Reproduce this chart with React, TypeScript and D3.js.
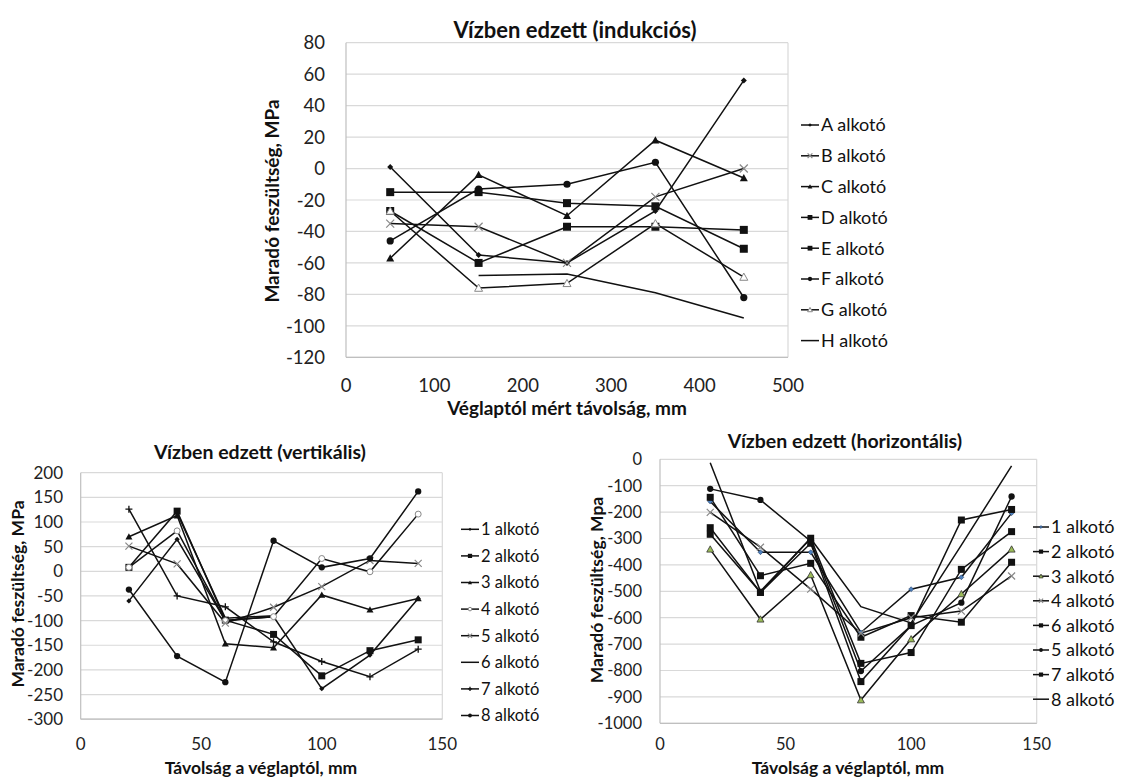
import * as d3 from "d3"

const FONT = "Lato, 'Open Sans', sans-serif"

// ---- Vízben edzett (indukciós)
const topX = [50, 150, 250, 350, 450]
const topXTicks = [0, 100, 200, 300, 400, 500]
const topYTicks = [80, 60, 40, 20, 0, -20, -40, -60, -80, -100, -120]
const topNames = ["A alkotó", "B alkotó", "C alkotó", "D alkotó", "E alkotó", "F alkotó", "G alkotó", "H alkotó"]
const topMarkers = ["diamond", "x", "triangle", "square", "square", "circle", "otriangle", "none"]
const topA = [1, -55, -60, -27, 56]
const topB = [-35, -37, -60, -18, 0]
const topC = [-57, -4, -30, 18, -6]
const topD = [-15, -15, -22, -24, -51]
const topE = [-27, -60, -37, -37, -39]
const topF = [-46, -13, -10, 4, -82]
const topG = [-27, -76, -73, -35, -69]
const topH = [null, -68, -67, -79, -95]

// ---- Vízben edzett (vertikális)
const vertX = [20, 40, 60, 80, 100, 120, 140]
const vertXTicks = [0, 50, 100, 150]
const vertYTicks = [200, 150, 100, 50, 0, -50, -100, -150, -200, -250, -300]
const vertNames = ["1 alkotó", "2 alkotó", "3 alkotó", "4 alkotó", "5 alkotó", "6 alkotó", "7 alkotó", "8 alkotó"]
const vertMarkers = ["diamond", "square", "triangle", "ocircle", "x", "none", "plus", "circle"]
const vert1 = [-60, 65, -100, -92, -238, -170, -55]
const vert2 = [8, 122, -99, -128, -212, -161, -139]
const vert3 = [70, 113, -147, -155, -48, -78, -55]
const vert4 = [8, 82, -100, -92, 26, -1, 116]
const vert5 = [51, 15, -105, -73, -31, 22, 16]
const vert6 = [null, 118, -95, -90, null, null, null]
const vert7 = [126, -50, -72, -143, -183, -214, -158]
const vert8 = [-37, -172, -225, 62, 8, 26, 162]

// ---- Vízben edzett (horizontális)
const horX = [20, 40, 60, 80, 100, 120, 140]
const horXTicks = [0, 50, 100, 150]
const horYTicks = [0, -100, -200, -300, -400, -500, -600, -700, -800, -900, -1000]
const horNames = ["1 alkotó", "2 alkotó", "3 alkotó", "4 alkotó", "6 alkotó", "5 alkotó", "7 alkotó", "8 alkotó"]
const horMarkers = ["bdiamond", "square", "gtriangle", "x", "square", "circle", "square", "none"]
const hor1 = [-160, -352, -352, -656, -492, -447, -204]
const hor2 = [-144, -441, -394, -674, -592, -617, -390]
const hor3 = [-341, -606, -438, -912, -681, -510, -341]
const hor4 = [-201, -333, -492, -659, -600, -575, -442]
const hor6 = [-259, -504, -299, -773, -732, -417, -274]
const hor5 = [-112, -154, -310, -802, -630, -543, -141]
const hor7 = [-284, -504, -318, -842, -630, -230, -190]
const hor8 = [-13, -500, -300, -558, -620, -325, -25]

function Marker({ type, x, y, s }: { type: string; x: number; y: number; s: number }) {
  switch (type) {
    case "diamond":
      return <path d={`M${x},${y - s * 0.75}L${x + s * 0.75},${y}L${x},${y + s * 0.75}L${x - s * 0.75},${y}Z`} fill="#111" />
    case "bdiamond":
      return <path d={`M${x},${y - s * 0.7}L${x + s * 0.7},${y}L${x},${y + s * 0.7}L${x - s * 0.7},${y}Z`} fill="#4f81bd" stroke="#1f3c66" strokeWidth={0.6} />
    case "square":
      return <rect x={x - s} y={y - s} width={s * 2} height={s * 2} fill="#111" />
    case "triangle":
      return <path d={`M${x},${y - s}L${x + s},${y + s * 0.8}L${x - s},${y + s * 0.8}Z`} fill="#111" />
    case "gtriangle":
      return <path d={`M${x},${y - s}L${x + s},${y + s * 0.8}L${x - s},${y + s * 0.8}Z`} fill="#9bbb59" stroke="#333" strokeWidth={0.8} />
    case "otriangle":
      return <path d={`M${x},${y - s}L${x + s},${y + s * 0.8}L${x - s},${y + s * 0.8}Z`} fill="#fff" stroke="#888" strokeWidth={1} />
    case "circle":
      return <circle cx={x} cy={y} r={s * 0.9} fill="#111" />
    case "ocircle":
      return <circle cx={x} cy={y} r={s * 0.85} fill="#fff" stroke="#888" strokeWidth={1} />
    case "x":
      return (
        <path d={`M${x - s},${y - s}L${x + s},${y + s}M${x - s},${y + s}L${x + s},${y - s}`} stroke="#888" strokeWidth={1.2} />
      )
    case "plus":
      return <path d={`M${x - s},${y}L${x + s},${y}M${x},${y - s}L${x},${y + s}`} stroke="#111" strokeWidth={1.3} />
    default:
      return null
  }
}

interface PanelProps {
  box: [number, number, number, number] // x0, x1, yTop, yBottom
  xDomain: [number, number]
  yDomain: [number, number]
  xTicks: number[]
  yTicks: number[]
  xs: number[]
  series: (number | null)[][]
  names: string[]
  markers: string[]
  tickFont: number
  yLabelX: number
  xLabelY: number
  title: string
  titlePos: [number, number, number]
  yTitle: string
  yTitlePos: [number, number, number]
  xTitle: string
  xTitlePos: [number, number, number]
  legend: { x: number; y0: number; step: number; font: number; len: number }
  ms: number
}

function Panel(p: PanelProps) {
  const [x0, x1, yT, yB] = p.box
  const x = d3.scaleLinear().domain(p.xDomain).range([x0, x1])
  const y = d3.scaleLinear().domain(p.yDomain).range([yB, yT])
  const line = d3
    .line<number | null>()
    .defined((d) => d != null)
    .x((_, i) => x(p.xs[i]))
    .y((d) => y(d as number))

  return (
    <g fontFamily={FONT}>
      {/* grid */}
      {p.yTicks.map((t) => (
        <line key={t} x1={x0} x2={x1} y1={y(t)} y2={y(t)} stroke="#d9d9d9" strokeWidth={1.2} />
      ))}
      <line x1={x1} x2={x1} y1={yT} y2={yB} stroke="#d9d9d9" strokeWidth={1.2} />
      <line x1={x0} x2={x0} y1={yT} y2={yB} stroke="#bfbfbf" strokeWidth={1.2} />
      <line x1={x0} x2={x1} y1={yB} y2={yB} stroke="#bfbfbf" strokeWidth={1.2} />

      {/* tick labels */}
      {p.yTicks.map((t) => (
        <text key={t} x={p.yLabelX} y={y(t) + p.tickFont * 0.36} textAnchor="end" fontSize={p.tickFont} fill="#222">
          {t}
        </text>
      ))}
      {p.xTicks.map((t) => (
        <text key={t} x={x(t)} y={p.xLabelY + p.tickFont * 0.36} textAnchor="middle" fontSize={p.tickFont} fill="#222">
          {t}
        </text>
      ))}

      {/* lines */}
      {p.series.map((s, i) => (
        <path key={i} d={line(s) || ""} fill="none" stroke="#111" strokeWidth={1.5} />
      ))}
      {p.series.map((s, i) =>
        s.map((v, j) =>
          v == null ? null : <Marker key={`${i}-${j}`} type={p.markers[i]} x={x(p.xs[j])} y={y(v)} s={p.ms} />
        )
      )}

      {/* titles */}
      <text x={p.titlePos[0]} y={p.titlePos[1]} textAnchor="middle" dy="0.35em" fontSize={p.titlePos[2]} fontWeight="bold" fill="#111">
        {p.title}
      </text>
      <text
        transform={`translate(${p.yTitlePos[0]},${p.yTitlePos[1]}) rotate(-90)`}
        textAnchor="middle"
        dy="0.35em"
        fontSize={p.yTitlePos[2]}
        fontWeight="bold"
        fill="#111"
      >
        {p.yTitle}
      </text>
      <text x={p.xTitlePos[0]} y={p.xTitlePos[1]} textAnchor="middle" dy="0.35em" fontSize={p.xTitlePos[2]} fontWeight="bold" fill="#111">
        {p.xTitle}
      </text>

      {/* legend */}
      {p.names.map((n, i) => {
        const ly = p.legend.y0 + i * p.legend.step
        const lx = p.legend.x
        return (
          <g key={n}>
            <line x1={lx - p.legend.len / 2} x2={lx + p.legend.len / 2} y1={ly} y2={ly} stroke="#111" strokeWidth={1.5} />
            <Marker type={p.markers[i]} x={lx} y={ly} s={p.ms * 0.6} />
            <text x={lx + p.legend.len / 2 + 2} y={ly + p.legend.font * 0.36} fontSize={p.legend.font} fill="#111">
              {n}
            </text>
          </g>
        )
      })}
    </g>
  )
}

export default function App() {
  return (
    <svg width={1126} height={778} style={{ position: "absolute", left: 0, top: 0, background: "#fff" }}>
      <rect width={1126} height={778} fill="#fff" />
      <Panel
        box={[346, 788, 42.7, 357.3]}
        xDomain={[0, 500]}
        yDomain={[-120, 80]}
        xTicks={topXTicks}
        yTicks={topYTicks}
        xs={topX}
        series={[topA, topB, topC, topD, topE, topF, topG, topH]}
        names={topNames}
        markers={topMarkers}
        tickFont={18.5}
        yLabelX={325}
        xLabelY={385}
        title="Vízben edzett (indukciós)"
        titlePos={[575, 30, 22]}
        yTitle="Maradó feszültség, MPa"
        yTitlePos={[272, 201, 19]}
        xTitle="Véglaptól mért távolság, mm"
        xTitlePos={[567, 408, 19]}
        legend={{ x: 810, y0: 125, step: 30.8, font: 18, len: 18 }}
        ms={4}
      />
      <Panel
        box={[80.7, 442.3, 472.7, 719.2]}
        xDomain={[0, 150]}
        yDomain={[-300, 200]}
        xTicks={vertXTicks}
        yTicks={vertYTicks}
        xs={vertX}
        series={[vert1, vert2, vert3, vert4, vert5, vert6, vert7, vert8]}
        names={vertNames}
        markers={vertMarkers}
        tickFont={17}
        yLabelX={63}
        xLabelY={744}
        title="Vízben edzett (vertikális)"
        titlePos={[260, 452, 19.5]}
        yTitle="Maradó feszültség, MPa"
        yTitlePos={[18, 594, 17.5]}
        xTitle="Távolság a véglaptól, mm"
        xTitlePos={[261, 768, 17.5]}
        legend={{ x: 470, y0: 529.3, step: 26.6, font: 16.5, len: 18 }}
        ms={3.5}
      />
      <Panel
        box={[660, 1036.7, 459.3, 723.3]}
        xDomain={[0, 150]}
        yDomain={[-1000, 0]}
        xTicks={horXTicks}
        yTicks={horYTicks}
        xs={horX}
        series={[hor1, hor2, hor3, hor4, hor6, hor5, hor7, hor8]}
        names={horNames}
        markers={horMarkers}
        tickFont={16.5}
        yLabelX={642}
        xLabelY={744}
        title="Vízben edzett (horizontális)"
        titlePos={[845, 441, 19.5]}
        yTitle="Maradó feszültség, Mpa"
        yTitlePos={[597, 590, 17.5]}
        xTitle="Távolság a véglaptól, mm"
        xTitlePos={[848, 768, 17.5]}
        legend={{ x: 1041, y0: 527, step: 24.6, font: 18, len: 16 }}
        ms={3.5}
      />
    </svg>
  )
}
